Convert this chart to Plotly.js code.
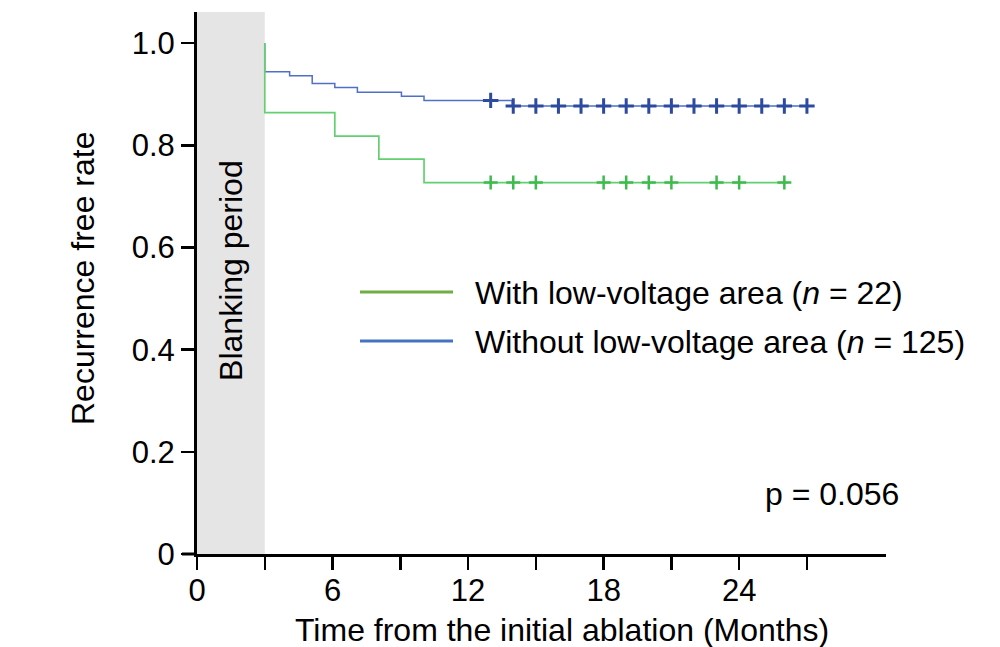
<!DOCTYPE html>
<html>
<head>
<meta charset="utf-8">
<script src="https://cdn.plot.ly/plotly-3.0.1.min.js"></script>
<style>html,body{margin:0;padding:0;background:#fff;}#chart{width:1000px;height:647px;}</style>
</head>
<body>
<div id="chart"></div>
<script>
// ---- data ----
const blankingPeriod = [0, 3];               // months
const greenTimes = [3, 3, 6.1, 8.05, 10.05, 26.15];
const greenSurv  = [1.0, 0.864, 0.818, 0.773, 0.727, 0.727];
const greenCensor = [13, 14, 15, 18, 19, 20, 21, 23, 24, 26];
const blueTimes = [3, 3, 4.1, 5.1, 6.1, 7.1, 9.05, 10.05, 13.95, 27.05];
const blueSurv  = [1.0, 0.944, 0.936, 0.921, 0.913, 0.904, 0.896, 0.888, 0.877, 0.877];
const blueCensor = [13, 14, 15, 16, 17, 18, 19, 20, 21, 22, 23, 24, 25, 26, 27];
const xTickVals = [0, 3, 6, 9, 12, 15, 18, 21, 24, 27];
const xTickText = ['0', '', '6', '', '12', '', '18', '', '24', ''];
const yTickVals = [0, 0.2, 0.4, 0.6, 0.8, 1.0];
const yTickText = ['0', '0.2', '0.4', '0.6', '0.8', '1.0'];
const seriesNames = ['With low-voltage area (<i>n</i> = 22)', 'Without low-voltage area (<i>n</i> = 125)'];
const pText = 'p = 0.056';

function stepValue(times, surv, t) {
  let v = surv[0];
  for (let i = 0; i < times.length; i++) { if (times[i] <= t) v = surv[i]; }
  return v;
}

const FONT = 'Liberation Sans, Arial, sans-serif';
const FS = 32, TFS = 31;
const GREEN_LINE = '#62d070', GREEN_MK = '#3dbb4c';
const BLUE_LINE = '#5070c8', BLUE_MK = '#2c4aa0';
const LEG_GREEN = '#70ad47', LEG_BLUE = '#4472c4';

const traces = [
  {x: blueTimes, y: blueSurv, mode: 'lines', line: {shape: 'hv', color: BLUE_LINE, width: 1.5}, name: 'Without', showlegend: false, hoverinfo: 'skip'},
  {x: blueCensor, y: blueCensor.map(t => stepValue(blueTimes, blueSurv, t)), mode: 'markers',
   marker: {symbol: 'cross-thin', size: 11, line: {color: BLUE_MK, width: 3}}, showlegend: false, hoverinfo: 'skip'},
  {x: greenTimes, y: greenSurv, mode: 'lines', line: {shape: 'hv', color: GREEN_LINE, width: 1.7}, name: 'With', showlegend: false, hoverinfo: 'skip'},
  {x: greenCensor, y: greenCensor.map(t => stepValue(greenTimes, greenSurv, t)), mode: 'markers',
   marker: {symbol: 'cross-thin', size: 10, line: {color: GREEN_MK, width: 2.5}}, showlegend: false, hoverinfo: 'skip'}
];

const L = 197, R = 886, T = 12, B = 554;
const W = R - L, H = B - T;
const px = x => (x - L) / W;
const py = y => (B - y) / H;

const layout = {
  width: 1000, height: 647,
  margin: {l: L, r: 1000 - R, t: T, b: 647 - B, pad: 0},
  paper_bgcolor: '#fff', plot_bgcolor: '#fff',
  font: {family: FONT, size: FS, color: '#000'},
  showlegend: false,
  xaxis: {
    range: [0, 30.5], tickvals: xTickVals, ticktext: xTickText,
    ticks: 'outside', ticklen: 13, tickwidth: 2.5, tickcolor: '#000',
    showline: true, linewidth: 3, linecolor: '#000', showgrid: false, zeroline: false,
    ticklabelstandoff: -6,
    tickfont: {family: FONT, size: TFS, color: '#000'}
  },
  yaxis: {
    range: [0, 1.061], tickvals: yTickVals, ticktext: yTickText,
    ticks: 'outside', ticklen: 13, tickwidth: 2.5, tickcolor: '#000',
    showline: true, linewidth: 3, linecolor: '#000', showgrid: false, zeroline: false,
    tickfont: {family: FONT, size: TFS, color: '#000'}
  },
  shapes: [
    {type: 'rect', xref: 'x', yref: 'paper', x0: blankingPeriod[0], x1: blankingPeriod[1], y0: 0, y1: 1,
     fillcolor: '#e6e5e6', line: {width: 0}, layer: 'below'},
    {type: 'line', xref: 'paper', yref: 'paper', x0: px(182), x1: 0, y0: 0, y1: 0, line: {color: '#000', width: 3}},
    {type: 'line', xref: 'paper', yref: 'paper', x0: px(360), x1: px(453), y0: py(292), y1: py(292), line: {color: LEG_GREEN, width: 3}},
    {type: 'line', xref: 'paper', yref: 'paper', x0: px(360), x1: px(453), y0: py(341), y1: py(341), line: {color: LEG_BLUE, width: 3}}
  ],
  annotations: [
    {text: seriesNames[0], xref: 'paper', yref: 'paper', x: px(473), y: py(293), xanchor: 'left', yanchor: 'middle', showarrow: false, font: {family: FONT, size: FS, color: '#000'}},
    {text: seriesNames[1], xref: 'paper', yref: 'paper', x: px(473), y: py(342), xanchor: 'left', yanchor: 'middle', showarrow: false, font: {family: FONT, size: FS, color: '#000'}},
    {text: 'Blanking period', xref: 'x', yref: 'paper', x: (blankingPeriod[0] + blankingPeriod[1]) / 2, y: py(270), textangle: -90, xanchor: 'center', yanchor: 'middle', showarrow: false, font: {family: FONT, size: FS, color: '#000'}},
    {text: pText, xref: 'paper', yref: 'paper', x: px(832), y: py(494), xanchor: 'center', yanchor: 'middle', showarrow: false, font: {family: FONT, size: FS, color: '#000'}},
    {text: 'Time from the initial ablation (Months)', xref: 'paper', yref: 'paper', x: px(562), y: py(630), xanchor: 'center', yanchor: 'middle', showarrow: false, font: {family: FONT, size: FS, color: '#000'}},
    {text: 'Recurrence free rate', xref: 'paper', yref: 'paper', x: px(83), y: py(279), textangle: -90, xanchor: 'center', yanchor: 'middle', showarrow: false, font: {family: FONT, size: FS, color: '#000'}}
  ]
};

Plotly.newPlot('chart', traces, layout, {staticPlot: true, displayModeBar: false});
</script>
</body>
</html>
